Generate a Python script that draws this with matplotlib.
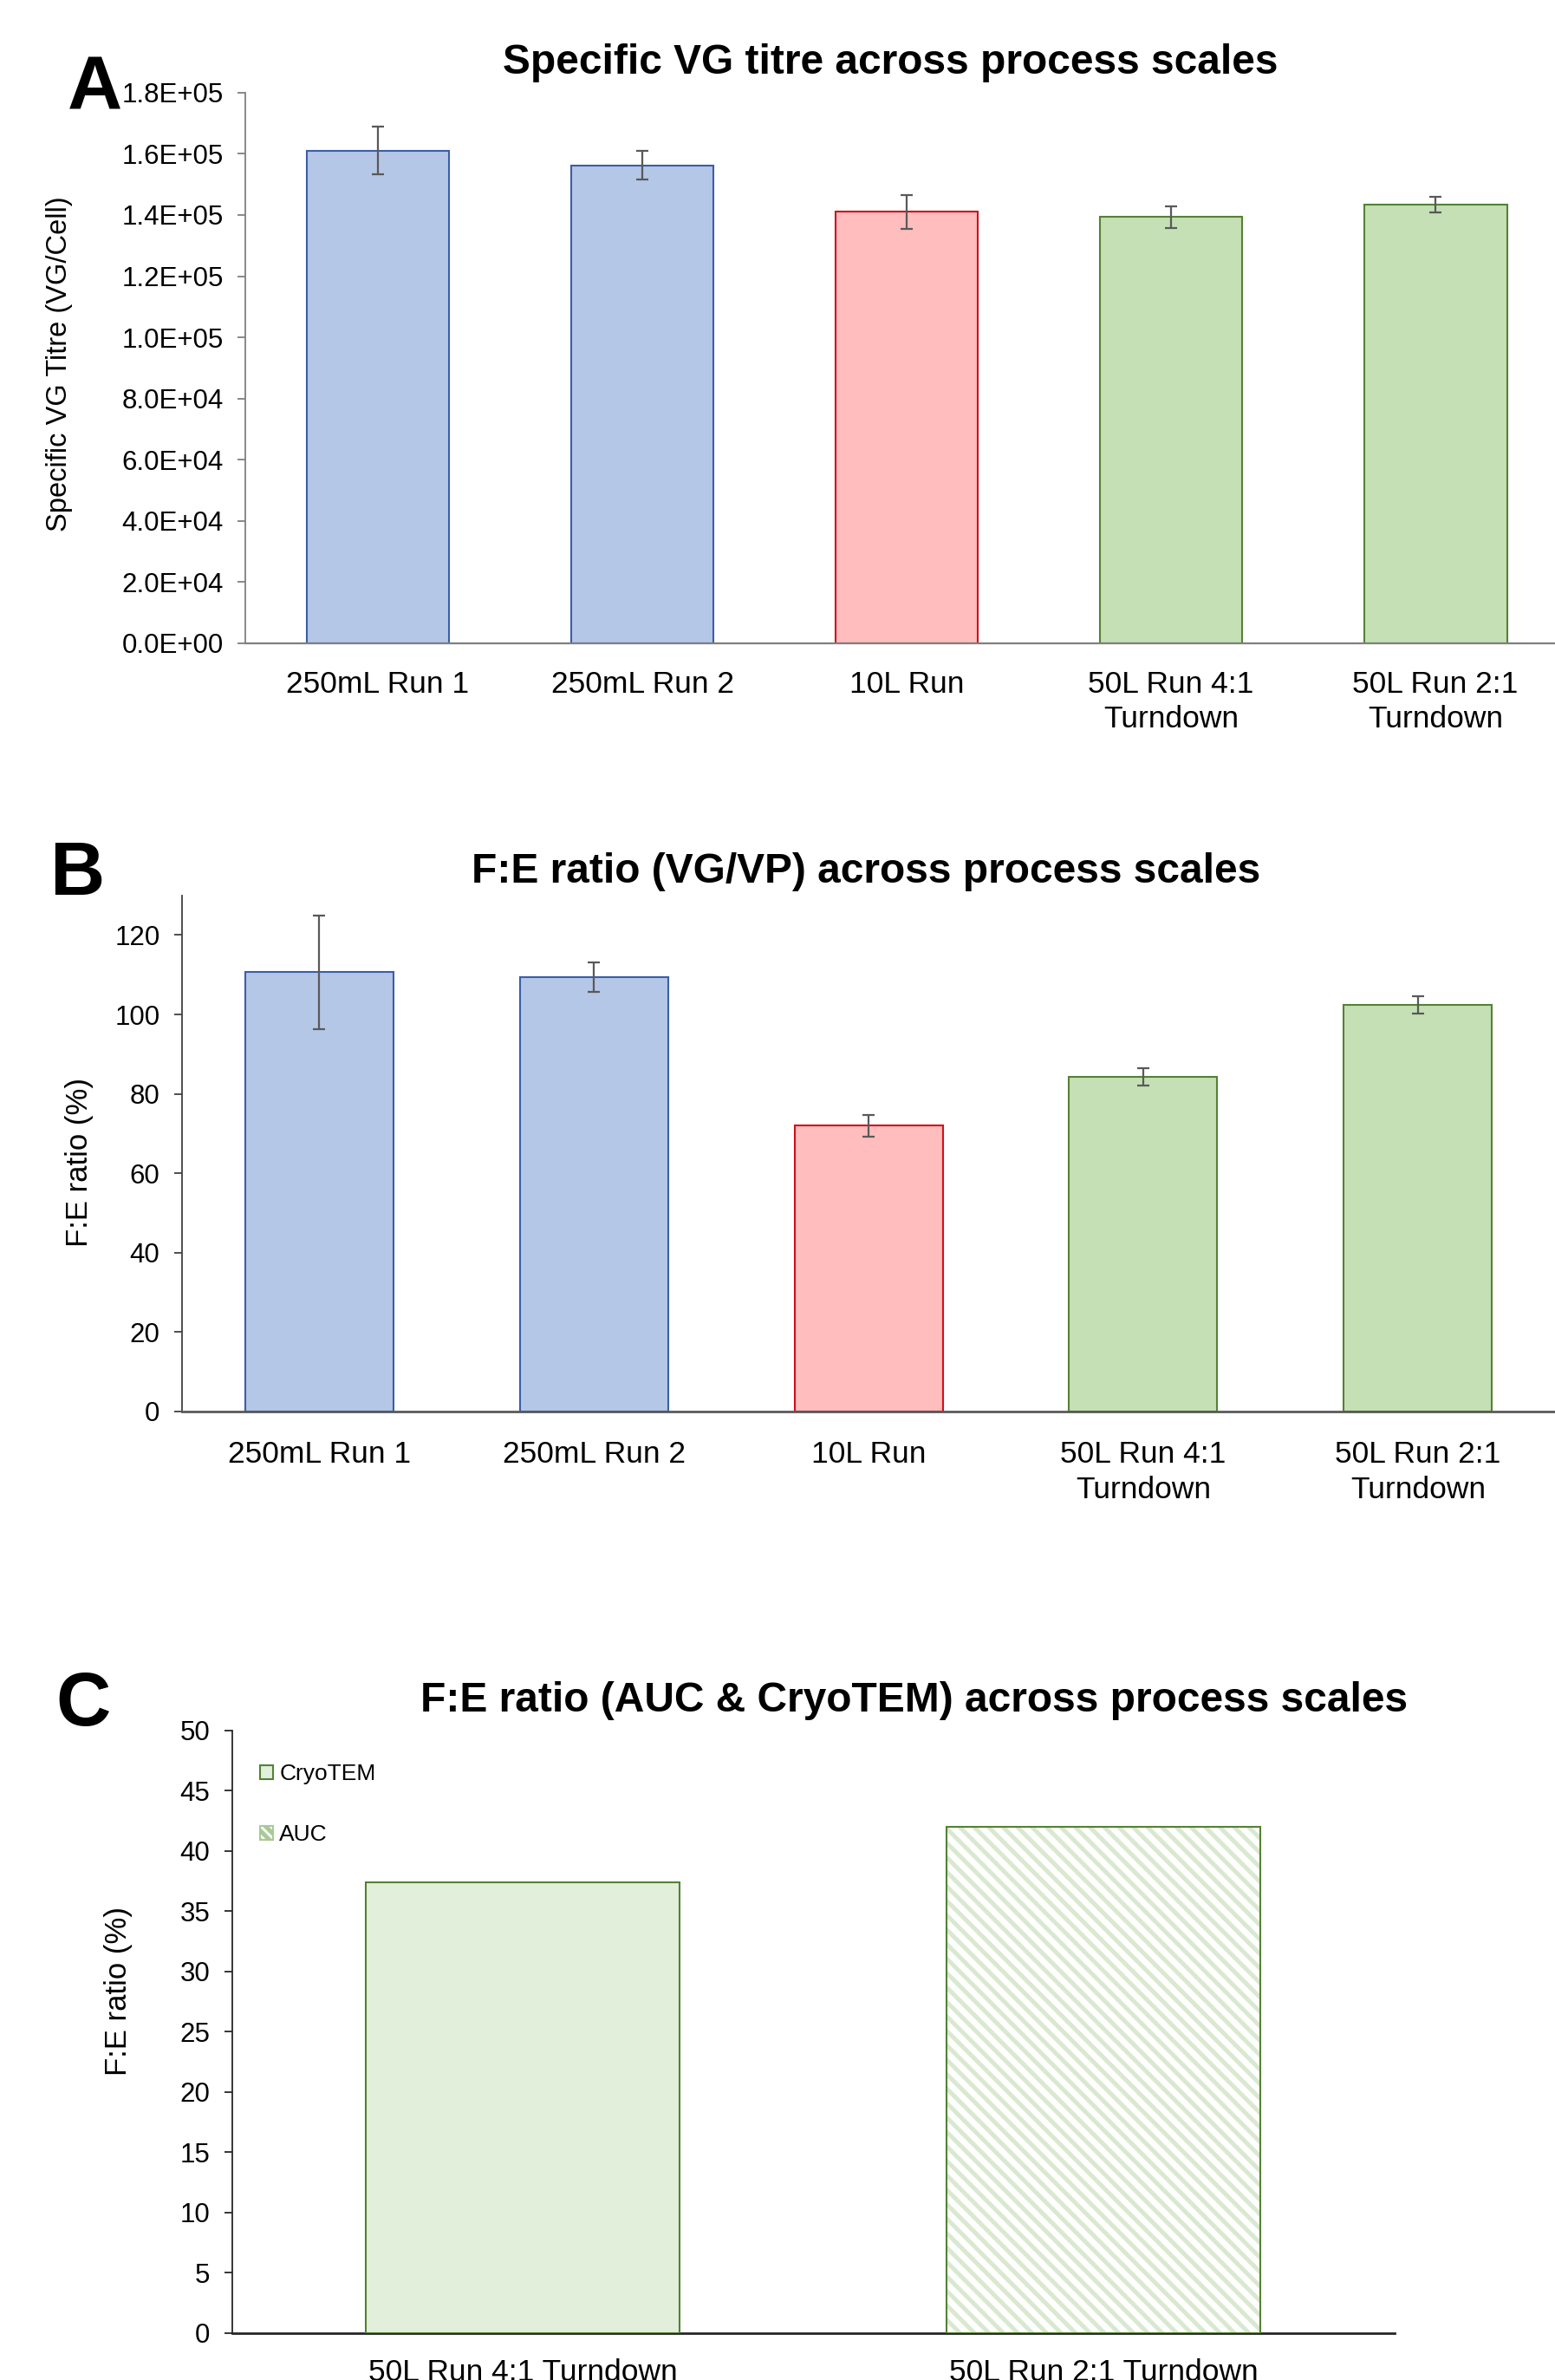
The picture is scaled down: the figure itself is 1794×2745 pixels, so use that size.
import matplotlib
matplotlib.use('Agg')
import matplotlib.pyplot as plt
from matplotlib.patches import Patch
from matplotlib.ticker import FuncFormatter, MultipleLocator

# ---------------- data ----------------
categories = ['250mL Run 1', '250mL Run 2', '10L Run',
              '50L Run 4:1\nTurndown', '50L Run 2:1\nTurndown']
vg_titre = [1.61e5, 1.562e5, 1.41e5, 1.393e5, 1.433e5]
vg_err = [7.8e3, 4.7e3, 5.5e3, 3.5e3, 2.6e3]
fe_ratio = [110.6, 109.4, 72.0, 84.3, 102.4]
fe_err = [14.3, 3.7, 2.7, 2.2, 2.1]
c_categories = ['50L Run 4:1 Turndown', '50L Run 2:1 Turndown']
c_values = [37.4, 42.0]
c_methods = ['CryoTEM', 'AUC']

fills = ['#b4c7e7', '#b4c7e7', '#ffbdbd', '#c5e0b4', '#c5e0b4']
edges = ['#3b5ea6', '#3b5ea6', '#d0101a', '#548235', '#548235']

plt.rcParams['font.family'] = ['Liberation Sans', 'DejaVu Sans']
plt.rcParams['hatch.linewidth'] = 3.6

W, H = 1794, 2745
fig = plt.figure(figsize=(W / 100, H / 100), dpi=100)


def fx(px):
    return px / W


def fy(py):
    return 1 - py / H


def style_axis(ax, spine_left, spine_bottom, lw_bottom):
    for s in ('top', 'right'):
        ax.spines[s].set_visible(False)
    ax.spines['left'].set_color(spine_left)
    ax.spines['left'].set_linewidth(1.3)
    ax.spines['bottom'].set_color(spine_bottom)
    ax.spines['bottom'].set_linewidth(lw_bottom)
    ax.tick_params(axis='y', length=6.5, width=1.3, pad=12, labelsize=22.5,
                   color=spine_left)
    ax.tick_params(axis='x', length=0, labelsize=25.5)


# ---------------- Panel A ----------------
axA = fig.add_axes([0.1580, 0.7297, 0.8502, 0.2314])
xA = range(len(categories))
axA.bar(xA, vg_titre, width=0.54, color=fills, edgecolor=edges,
        linewidth=1.5, zorder=2)
axA.errorbar(xA, vg_titre, yerr=vg_err, fmt='none', ecolor='#595959',
             elinewidth=1.6, capsize=5, capthick=1.6, zorder=3)
axA.set_xlim(-0.5, len(categories) - 0.5)
axA.set_ylim(0, 1.8e5)
axA.yaxis.set_major_locator(MultipleLocator(2e4))
axA.yaxis.set_major_formatter(FuncFormatter(lambda v, p: f"{v:.1E}"))
axA.set_xticks(list(xA))
axA.set_xticklabels(categories, linespacing=1.3)
style_axis(axA, '#7f7f7f', '#7f7f7f', 1.6)
axA.tick_params(axis='x', pad=22)

fig.text(fx(68), fy(420), 'Specific VG Titre (VG/Cell)', rotation=90,
         ha='center', va='center', fontsize=23.5)
fig.text(fx(1027), fy(85), 'Specific VG titre across process scales',
         ha='center', va='baseline', fontsize=34.5, fontweight='bold')
fig.text(fx(109), fy(126), 'A', ha='center', va='baseline', fontsize=63,
         fontweight='bold')

# ---------------- Panel B ----------------
axB = fig.add_axes([0.1171, 0.4070, 0.8830, 0.2168])
xB = range(len(categories))
axB.bar(xB, fe_ratio, width=0.54, color=fills, edgecolor=edges,
        linewidth=1.5, zorder=2)
axB.errorbar(xB, fe_ratio, yerr=fe_err, fmt='none', ecolor='#595959',
             elinewidth=1.6, capsize=5, capthick=1.6, zorder=3)
axB.set_xlim(-0.5, len(categories) - 0.5)
axB.set_ylim(0, 130)
axB.yaxis.set_major_locator(MultipleLocator(20))
axB.set_xticks(list(xB))
axB.set_xticklabels(categories, linespacing=1.3)
style_axis(axB, '#404040', '#595959', 2.0)
axB.tick_params(axis='x', pad=24)

fig.text(fx(91), fy(1341), 'F:E ratio (%)', rotation=90,
         ha='center', va='center', fontsize=25)
fig.text(fx(999), fy(1018), 'F:E ratio (VG/VP) across process scales',
         ha='center', va='baseline', fontsize=34.5, fontweight='bold')
fig.text(fx(89), fy(1032), 'B', ha='center', va='baseline', fontsize=63,
         fontweight='bold')

# ---------------- Panel C ----------------
axC = fig.add_axes([0.1493, 0.0198, 0.7473, 0.2532])
xC = range(len(c_categories))
barsC = axC.bar(xC, c_values, width=0.54, color=['#e2efda', 'white'],
                edgecolor='none', linewidth=0, zorder=2)
barsC[1].set_hatch('\\\\')
barsC[1].set_edgecolor('#d9e9cf')
axC.bar(xC, c_values, width=0.54, color='none', edgecolor='#548235',
        linewidth=1.5, zorder=3)
axC.set_xlim(-0.5, len(c_categories) - 0.5)
axC.set_ylim(0, 50)
axC.yaxis.set_major_locator(MultipleLocator(5))
axC.set_xticks(list(xC))
axC.set_xticklabels(c_categories)
style_axis(axC, '#262626', '#262626', 2.0)
axC.tick_params(axis='x', pad=21)

handles = [Patch(facecolor='#e2efda', edgecolor='#548235', linewidth=1.5),
           Patch(facecolor='white', edgecolor='#a9c997', linewidth=1.5,
                 hatch='\\\\\\')]
fig.legend(handles, c_methods, loc='upper left',
           bbox_to_anchor=(fx(300), fy(2034)), frameon=False,
           fontsize=19, handlelength=0.55, handleheight=0.55,
           handletextpad=0.3, labelspacing=1.75, borderpad=0,
           borderaxespad=0)

fig.text(fx(136), fy(2297), 'F:E ratio (%)', rotation=90,
         ha='center', va='center', fontsize=25)
fig.text(fx(1055), fy(1974),
         'F:E ratio (AUC & CryoTEM) across process scales',
         ha='center', va='baseline', fontsize=34.5, fontweight='bold')
fig.text(fx(96), fy(1990), 'C', ha='center', va='baseline', fontsize=63,
         fontweight='bold')

fig.savefig('out.png', dpi=100)
